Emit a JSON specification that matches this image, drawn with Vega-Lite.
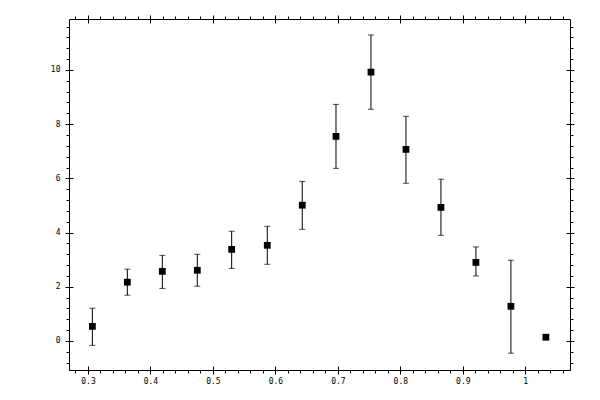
{
  "$schema": "https://vega.github.io/schema/vega-lite/v6.json",
  "width": 501,
  "height": 351,
  "autosize": {"type": "none"},
  "padding": {"left": 69, "top": 19, "right": 30, "bottom": 30},
  "background": "white",
  "config": {
    "view": {"stroke": "#000", "strokeWidth": 1},
    "axis": {
      "tickColor": "#000", "tickWidth": 1, "labelColor": "#000",
      "labelFont": "DejaVu Sans Mono", "labelFontSize": 8,
      "grid": false, "domain": false, "title": null
    }
  },
  "data": {
    "values": [
      {"x": 0.307, "y": 0.54, "lo": -0.16, "hi": 1.21},
      {"x": 0.363, "y": 2.17, "lo": 1.69, "hi": 2.65},
      {"x": 0.419, "y": 2.57, "lo": 1.94, "hi": 3.16},
      {"x": 0.475, "y": 2.61, "lo": 2.02, "hi": 3.2},
      {"x": 0.530, "y": 3.38, "lo": 2.68, "hi": 4.05},
      {"x": 0.587, "y": 3.53, "lo": 2.83, "hi": 4.23},
      {"x": 0.643, "y": 5.01, "lo": 4.12, "hi": 5.89},
      {"x": 0.697, "y": 7.55, "lo": 6.37, "hi": 8.73},
      {"x": 0.753, "y": 9.92, "lo": 8.55, "hi": 11.29},
      {"x": 0.809, "y": 7.07, "lo": 5.82, "hi": 8.29},
      {"x": 0.865, "y": 4.93, "lo": 3.9, "hi": 5.97},
      {"x": 0.921, "y": 2.9, "lo": 2.4, "hi": 3.47},
      {"x": 0.977, "y": 1.28, "lo": -0.45, "hi": 2.98},
      {"x": 1.033, "y": 0.14}
    ]
  },
  "resolve": {"axis": {"x": "independent", "y": "independent"}},
  "layer": [
    {
      "transform": [{"filter": "isValid(datum.lo)"}],
      "mark": {"type": "rule", "color": "#000", "strokeWidth": 1},
      "encoding": {
        "x": {"field": "x", "type": "quantitative",
          "scale": {"domain": [0.2696, 1.0716], "nice": false, "zero": false},
          "axis": {"orient": "bottom", "values": [0.28,0.32,0.34,0.36,0.38,0.42,0.44,0.46,0.48,0.52,0.54,0.56,0.58,0.62,0.64,0.66,0.68,0.72,0.74,0.76,0.78,0.82,0.84,0.86,0.88,0.92,0.94,0.96,0.98,1.02,1.04,1.06], "tickSize": 3, "labels": false}},
        "y": {"field": "lo", "type": "quantitative",
          "scale": {"domain": [-1.07, 11.88], "nice": false, "zero": false},
          "axis": {"orient": "left", "values": [-0.8,-0.4,0.4,0.8,1.2,1.6,2.4,2.8,3.2,3.6,4.4,4.8,5.2,5.6,6.4,6.8,7.2,7.6,8.4,8.8,9.2,9.6,10.4,10.8,11.2,11.6], "tickSize": 3, "labels": false}},
        "y2": {"field": "hi"}
      }
    },
    {
      "transform": [{"filter": "isValid(datum.hi)"}],
      "mark": {"type": "tick", "orient": "horizontal", "color": "#000", "size": 6, "thickness": 1},
      "encoding": {
        "x": {"field": "x", "type": "quantitative",
          "scale": {"domain": [0.2696, 1.0716], "nice": false, "zero": false},
          "axis": {"orient": "top", "values": [0.28,0.32,0.34,0.36,0.38,0.42,0.44,0.46,0.48,0.52,0.54,0.56,0.58,0.62,0.64,0.66,0.68,0.72,0.74,0.76,0.78,0.82,0.84,0.86,0.88,0.92,0.94,0.96,0.98,1.02,1.04,1.06], "tickSize": 3, "labels": false}},
        "y": {"field": "hi", "type": "quantitative",
          "scale": {"domain": [-1.07, 11.88], "nice": false, "zero": false},
          "axis": {"orient": "right", "values": [-0.8,-0.4,0.4,0.8,1.2,1.6,2.4,2.8,3.2,3.6,4.4,4.8,5.2,5.6,6.4,6.8,7.2,7.6,8.4,8.8,9.2,9.6,10.4,10.8,11.2,11.6], "tickSize": 3, "labels": false}}
      }
    },
    {
      "transform": [{"filter": "isValid(datum.lo)"}],
      "mark": {"type": "tick", "orient": "horizontal", "color": "#000", "size": 6, "thickness": 1},
      "encoding": {
        "x": {"field": "x", "type": "quantitative",
          "scale": {"domain": [0.2696, 1.0716], "nice": false, "zero": false},
          "axis": {"orient": "bottom", "values": [0.3,0.4,0.5,0.6,0.7,0.8,0.9,1.0], "format": "~r", "offset": -4, "tickSize": 8, "labelPadding": 3}},
        "y": {"field": "lo", "type": "quantitative",
          "scale": {"domain": [-1.07, 11.88], "nice": false, "zero": false},
          "axis": {"orient": "left", "values": [0,2,4,6,8,10], "format": "~r", "offset": -4, "tickSize": 8, "labelPadding": 5}}
      }
    },
    {
      "mark": {"type": "point", "shape": "square", "filled": true, "color": "#000", "opacity": 1, "size": 46},
      "encoding": {
        "x": {"field": "x", "type": "quantitative",
          "scale": {"domain": [0.2696, 1.0716], "nice": false, "zero": false},
          "axis": {"orient": "top", "values": [0.3,0.4,0.5,0.6,0.7,0.8,0.9,1.0], "offset": -4, "tickSize": 8, "labels": false}},
        "y": {"field": "y", "type": "quantitative",
          "scale": {"domain": [-1.07, 11.88], "nice": false, "zero": false},
          "axis": {"orient": "right", "values": [0,2,4,6,8,10], "offset": -4, "tickSize": 8, "labels": false}}
      }
    }
  ]
}
